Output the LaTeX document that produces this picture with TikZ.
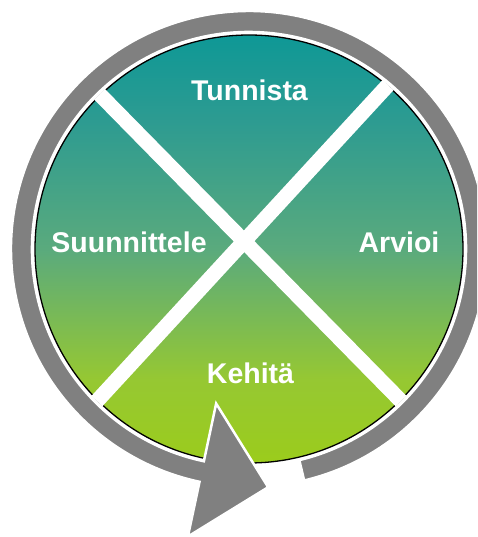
\documentclass[tikz,border=0pt]{standalone}
\usepackage{fontspec}
\setmainfont{Liberation Sans}
\usepackage{xcolor}
\usepackage{tikz}
\usetikzlibrary{positioning,calc}

\definecolor{ringgray}{RGB}{128,128,128}

\pgfdeclareverticalshading{discfill}{100bp}{
  rgb(0bp)=(0.608,0.800,0.110);
  rgb(25bp)=(0.608,0.800,0.110);
  rgb(34.7bp)=(0.588,0.784,0.196);
  rgb(50bp)=(0.353,0.667,0.490);
  rgb(65bp)=(0.176,0.608,0.569);
  rgb(75bp)=(0.055,0.596,0.588);
  rgb(100bp)=(0.055,0.596,0.588)}

\tikzset{
  phase/.style={text=white,font=\fontsize{28.5}{30}\selectfont\bfseries,anchor=base,inner sep=0pt},
  cut/.style={white,line width=15}
}

\begin{document}
\begin{tikzpicture}[x=1pt,y=1pt]
  \useasboundingbox (-249,-288) rectangle (228,249);
  \clip (-249,-288) rectangle (228,249);
  % the disc
  \shade[shading=discfill] (0,0) circle (214);
  \draw[black,line width=1.3] (0,0) circle (214);
  % the cross
  \coordinate (tl) at (134:215);
  \coordinate (tr) at (49.7:215);
  \coordinate (bl) at (225:215);
  \coordinate (br) at (315:215);
  \draw[cut] (tl) -- (br);
  \draw[cut] (tr) -- (bl);
  % the cycle arrow
  \fill[ringgray,draw=white,line width=2.5]
    (283.4:238) arc[start angle=283.4,end angle=618,radius=238]
    -- (618:294) -- (274.6:239) -- (618:158) -- (618:217)
    arc[start angle=618,end angle=283.4,radius=217] -- cycle;
  % labels
  \node[phase] (tunnista) at (0.5,148) {Tunnista};
  \node[phase] (suunnittele) at (-120,-4) {Suunnittele};
  \node[phase] (arvioi) at (150,-4) {Arvioi};
  \node[phase] (kehita) at (1.5,-134) {Kehitä};
\end{tikzpicture}
\end{document}
